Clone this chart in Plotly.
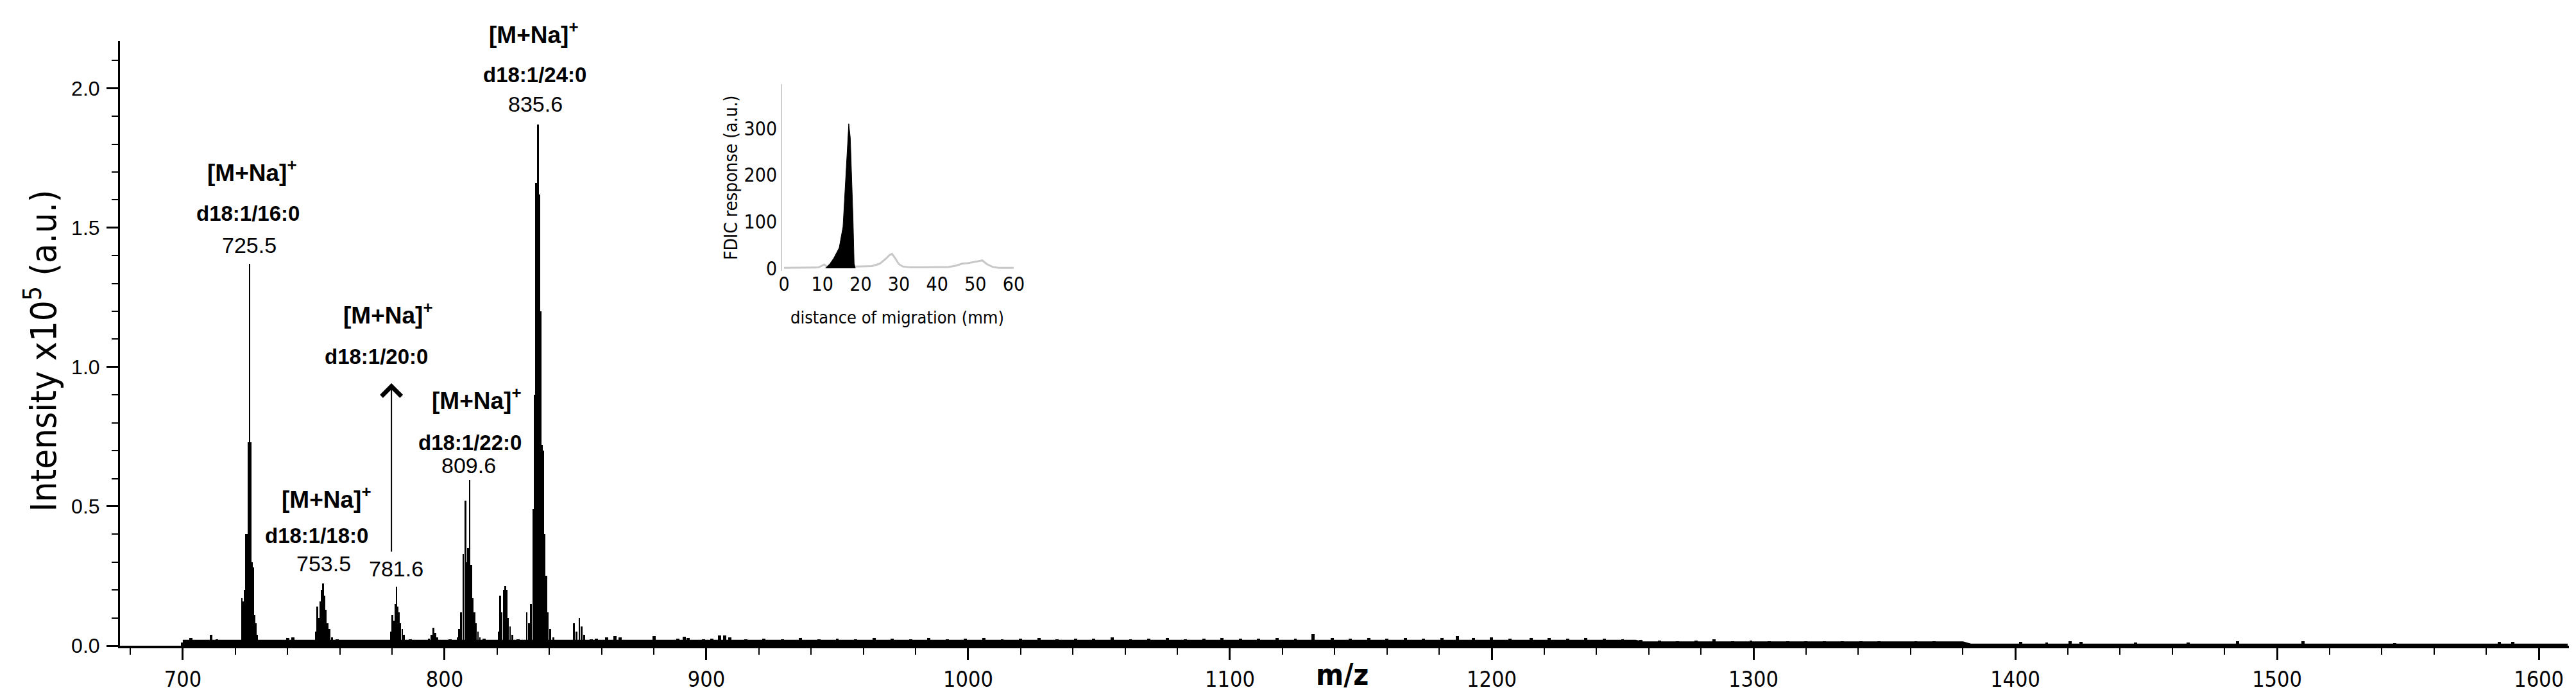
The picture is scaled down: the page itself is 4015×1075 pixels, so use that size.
import plotly.graph_objects as go

NARROW = "Liberation Sans Narrow, Arial Narrow, DejaVu Sans Condensed, Liberation Sans, Arial, sans-serif"
SANS = "Liberation Sans, Arial, sans-serif"
Y_MAX = 2.17

# MALDI spectrum, main clusters (m/z, intensity x10^5 a.u.)
peak_mz = [
    722.6, 723.0, 723.6, 724.2, 724.6, 725.0, 725.5, 725.9, 726.3, 726.8, 727.3, 727.8, 728.3,
    750.8, 751.4, 752.0, 752.6, 753.0, 753.5, 754.0, 754.6, 755.3, 756.0, 757.0, 758.0,
    779.6, 780.0, 780.8, 781.2, 781.6, 782.1, 782.6, 783.1, 783.8, 784.5, 785.5,
    793.0, 794.0, 795.0, 795.8, 796.5, 797.2, 798.0,
    805.0, 805.5, 806.3, 807.1, 807.9, 808.4, 809.0, 809.6, 810.2, 810.8, 811.4, 812.0, 812.8, 813.5,
    820.6, 821.2, 821.8, 822.6, 823.2, 823.8, 824.3, 825.0, 825.8, 826.8,
    831.4, 832.2, 833.0, 833.9, 834.5, 835.0, 835.6, 836.1, 836.6, 837.1, 837.6, 838.2, 838.8,
    839.5, 840.3, 841.5,
    848.5, 849.4, 850.3, 851.5, 852.4, 853.3, 854.5,
]
peak_int = [
    0.17, 0.16, 0.20, 0.40, 0.40, 0.73, 1.37, 0.73, 0.30, 0.28, 0.11, 0.08, 0.04,
    0.05, 0.14, 0.10, 0.16, 0.20, 0.224, 0.18, 0.13, 0.08, 0.06, 0.03, 0.02,
    0.05, 0.11, 0.09, 0.15, 0.212, 0.14, 0.12, 0.08, 0.06, 0.04, 0.02,
    0.015, 0.025, 0.04, 0.065, 0.045, 0.03, 0.015,
    0.03, 0.06, 0.12, 0.33, 0.52, 0.30, 0.35, 0.594, 0.29, 0.17, 0.12, 0.08, 0.05, 0.03,
    0.05, 0.18, 0.12, 0.20, 0.215, 0.20, 0.10, 0.07, 0.04, 0.02,
    0.12, 0.08, 0.15, 0.49, 0.90, 1.66, 1.87, 1.62, 1.20, 0.72, 0.70, 0.40, 0.25,
    0.12, 0.06, 0.03,
    0.02, 0.08, 0.05, 0.10, 0.07, 0.04, 0.02,
]

# small noise spikes along the baseline
noise_mz = [
    700, 703, 705.5, 708, 710.8, 713, 716, 719, 731, 734,
    737, 740, 742, 745, 748, 759, 762, 765, 768, 771,
    774, 777, 787, 790, 800, 802, 815, 818, 828, 843,
    846, 856, 858, 862, 865, 867, 871, 874, 877, 880,
    883, 886, 889, 891.5, 893, 896, 899, 902, 905, 907,
    909, 915, 922, 929, 936, 943, 950, 957, 964, 971,
    978, 985, 992, 999, 1006, 1013, 1020, 1027, 1034, 1041,
    1048, 1055, 1062, 1069, 1076, 1083, 1090, 1097, 1104, 1111,
    1118, 1125, 1131.8, 1139, 1146, 1153, 1160, 1167, 1174, 1181,
    1186.8, 1193, 1199.8, 1207, 1215, 1222, 1229, 1236, 1243, 1250,
    1257, 1264, 1271, 1278, 1285, 1292, 1299, 1306, 1313, 1320,
    1327, 1334, 1341, 1348, 1355, 1362, 1369, 1376, 1402, 1412,
    1421, 1425, 1446, 1466, 1485, 1510, 1545, 1585, 1590,
]
noise_int = [
    0.012, 0.028, 0.016, 0.020, 0.040, 0.022, 0.016, 0.018, 0.020, 0.015,
    0.020, 0.028, 0.030, 0.020, 0.016, 0.024, 0.018, 0.015, 0.016, 0.018,
    0.015, 0.020, 0.022, 0.016, 0.018, 0.022, 0.025, 0.020, 0.022, 0.020,
    0.018, 0.022, 0.026, 0.030, 0.034, 0.030, 0.014, 0.016, 0.018, 0.034,
    0.020, 0.020, 0.026, 0.032, 0.028, 0.020, 0.022, 0.026, 0.038, 0.037,
    0.030, 0.024, 0.026, 0.022, 0.027, 0.024, 0.026, 0.023, 0.028, 0.025,
    0.022, 0.027, 0.024, 0.026, 0.028, 0.023, 0.025, 0.027, 0.024, 0.026,
    0.025, 0.029, 0.024, 0.026, 0.028, 0.024, 0.026, 0.027, 0.025, 0.026,
    0.028, 0.026, 0.042, 0.028, 0.026, 0.027, 0.025, 0.028, 0.026, 0.027,
    0.034, 0.028, 0.030, 0.026, 0.028, 0.027, 0.025, 0.028, 0.026, 0.024,
    0.020, 0.018, 0.017, 0.019, 0.024, 0.017, 0.018, 0.016, 0.017, 0.015,
    0.016, 0.017, 0.015, 0.016, 0.014, 0.015, 0.016, 0.014, 0.014, 0.012,
    0.016, 0.014, 0.011, 0.012, 0.016, 0.015, 0.010, 0.014, 0.013,
]

# noise floor level in segments
floor_mz = [700, 1255, 1258, 1380, 1383, 1611]
floor_int = [0.019, 0.019, 0.013, 0.013, 0.005, 0.005]

# annotations
ion_mz = [834.1, 726.5, 778.5, 812.2, 754.9]
ion_int = [2.198, 1.703, 1.191, 0.885, 0.530]
name_text = ["d18:1/24:0", "d18:1/16:0", "d18:1/20:0", "d18:1/22:0", "d18:1/18:0"]
name_mz = [834.5, 724.8, 774.0, 809.8, 751.0]
name_int = [2.050, 1.551, 1.037, 0.730, 0.394]
mass_text = ["835.6", "725.5", "781.6", "809.6", "753.5"]
mass_mz = [834.8, 725.3, 781.4, 809.3, 753.9]
mass_int = [1.945, 1.438, 0.276, 0.647, 0.295]
arrow_mz = 779.7
arrow_from = 0.334
arrow_to = 0.942

# inset: FDIC densitogram
black_mm = [10.8, 12.0, 13.0, 14.4, 15.4, 16.0, 16.5, 16.9, 17.3, 17.6, 18.0, 18.3, 18.6]
black_val = [0, 10, 22, 44, 89, 178, 260, 310, 280, 215, 110, 11, 0]
gray_mm = [0, 5, 9, 10.5, 11.5, 19, 21, 23, 25, 26.5, 27.5, 28.2, 29, 30, 31, 33, 36, 40,
           43, 45, 46.5, 48, 49.5, 51, 51.8, 53, 54.5, 56, 60]
gray_val = [1, 1, 2, 8, 2, 4, 4, 5, 10, 20, 28, 31, 22, 9, 4, 2, 2, 2,
            3, 6, 10, 11, 13, 16, 17, 9, 3, 1, 1]
inset_xticks = [0, 10, 20, 30, 40, 50, 60]
inset_yticks = [0, 100, 200, 300]

fig = go.Figure()

fig.add_trace(go.Scatter(x=floor_mz, y=floor_int, mode="lines", fill="tozeroy",
                         line=dict(color="black", width=2), fillcolor="black",
                         hoverinfo="skip"))
fig.add_trace(go.Bar(x=noise_mz, y=noise_int, width=1.2, marker=dict(color="black", line_width=0)))
fig.add_trace(go.Bar(x=peak_mz, y=peak_int, width=0.65, marker=dict(color="black", line_width=0)))

fig.add_trace(go.Scatter(x=gray_mm, y=gray_val, mode="lines", line=dict(color="#c8c8c8", width=3),
                         xaxis="x2", yaxis="y2"))
fig.add_trace(go.Scatter(x=black_mm, y=black_val, mode="lines", fill="tozeroy",
                         line=dict(color="black", width=1), fillcolor="black",
                         xaxis="x2", yaxis="y2"))

# peak labels, y given in paper units so the top one is not hidden
for mz, y in zip(ion_mz, ion_int):
    fig.add_annotation(x=mz, y=y / Y_MAX, yref="paper", text="<b>[M+Na]<sup>+</sup></b>",
                       showarrow=False, xanchor="center", yanchor="middle",
                       font=dict(family=SANS, size=37, color="black"))
for t, mz, y in zip(name_text, name_mz, name_int):
    fig.add_annotation(x=mz, y=y / Y_MAX, yref="paper", text="<b>" + t + "</b>", showarrow=False,
                       xanchor="center", yanchor="middle",
                       font=dict(family=SANS, size=33, color="black"))
for t, mz, y in zip(mass_text, mass_mz, mass_int):
    fig.add_annotation(x=mz, y=y / Y_MAX, yref="paper", text=t, showarrow=False,
                       xanchor="center", yanchor="middle",
                       font=dict(family=SANS, size=34, color="black"))

fig.add_annotation(x=arrow_mz, y=arrow_to, ax=arrow_mz, ay=arrow_from, axref="x", ayref="y",
                   text="", showarrow=True, arrowhead=4, arrowsize=3, arrowwidth=2,
                   arrowcolor="black", standoff=0)

# axis titles
fig.add_annotation(xref="paper", yref="paper", x=-0.0322, y=0.488, textangle=-90,
                   xanchor="center", yanchor="middle",
                   text="Intensity x10<sup>5</sup> (a.u.)", showarrow=False,
                   font=dict(family=NARROW, size=56, color="black"))
fig.add_annotation(xref="x", yref="paper", x=1143, y=-0.048, text="<b>m/z</b>", showarrow=False,
                   xanchor="center", yanchor="middle",
                   font=dict(family=NARROW, size=46, color="black"))
fig.add_annotation(xref="paper", yref="paper", x=0.3173, y=0.5425,
                   xanchor="center", yanchor="middle",
                   text="distance of migration (mm)", showarrow=False,
                   font=dict(family=NARROW, size=27, color="black"))
fig.add_annotation(xref="paper", yref="paper", x=0.2497, y=0.7739, textangle=-90,
                   xanchor="center", yanchor="middle",
                   text="FDIC response (a.u.)", showarrow=False,
                   font=dict(family=NARROW, size=28, color="black"))

fig.update_layout(
    width=4015, height=1075,
    margin=dict(l=179, r=19, t=56, b=77),
    paper_bgcolor="white", plot_bgcolor="white",
    showlegend=False, barmode="overlay", bargap=0,
    xaxis=dict(range=[676, 1611.5], showline=True, linecolor="black", linewidth=4,
               ticks="outside", ticklen=18, tickwidth=3, tickcolor="black", automargin=False,
               tick0=700, dtick=100, showgrid=False, zeroline=False, ticklabelstandoff=1,
               minor=dict(ticks="outside", tick0=700, dtick=20, ticklen=10, tickwidth=2,
                          tickcolor="black", showgrid=False),
               tickfont=dict(family=NARROW, size=34, color="black")),
    yaxis=dict(range=[0, Y_MAX], showline=True, linecolor="black", linewidth=3,
               ticks="outside", ticklen=18, tickwidth=3, tickcolor="black", automargin=False,
               tick0=0, dtick=0.5, tickformat=".1f", showgrid=False, zeroline=False,
               ticklabelstandoff=4,
               minor=dict(ticks="outside", tick0=0, dtick=0.1, ticklen=10, tickwidth=2,
                          tickcolor="black", showgrid=False),
               tickfont=dict(family=SANS, size=32, color="black")),
    xaxis2=dict(domain=[0.2704, 0.3665], anchor="y2", range=[-0.5, 61], automargin=False,
                showline=False, ticks="", tickvals=inset_xticks, showgrid=False, zeroline=False,
                tickfont=dict(family=NARROW, size=30, color="black")),
    yaxis2=dict(domain=[0.6195, 0.9289], anchor="x2", range=[-6, 395], automargin=False,
                showline=True, linecolor="#cfcfcf", linewidth=2, ticks="",
                tickvals=inset_yticks, showgrid=False, zeroline=False,
                tickfont=dict(family=NARROW, size=30, color="black")),
)

fig.write_html("out.html")
